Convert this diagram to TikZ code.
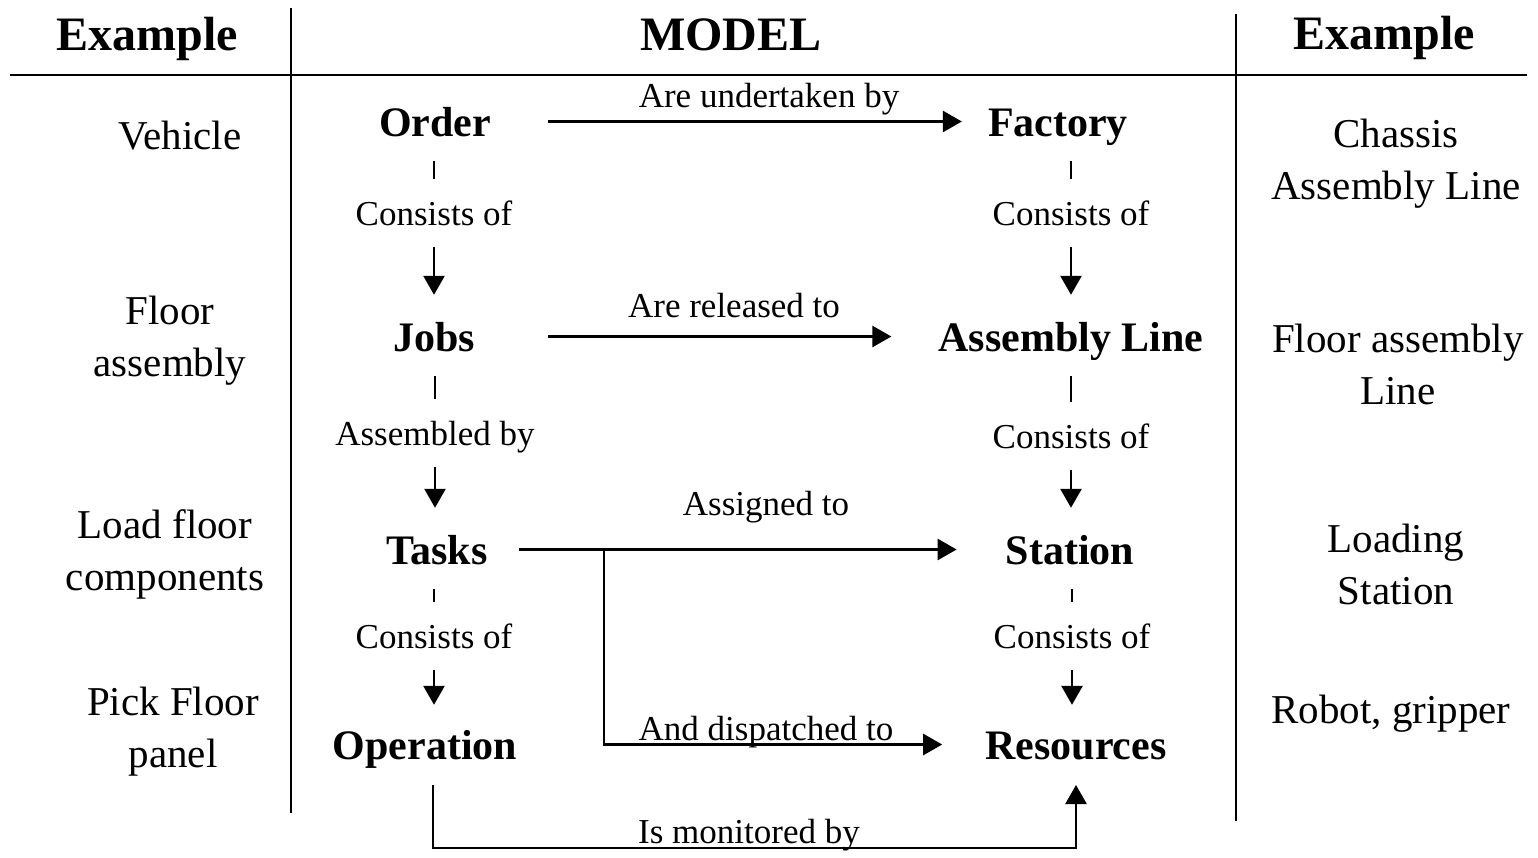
\documentclass[tikz,border=0pt]{standalone}
\usepackage{fontspec}
\setmainfont{Liberation Serif}
\usetikzlibrary{arrows.meta}
\begin{document}
\begin{tikzpicture}[x=1pt,y=-1pt,
  concept/.style={font=\fontsize{42}{50}\selectfont\bfseries, inner sep=0pt, text height=29pt, text depth=0pt, anchor=base},
  rel/.style={font=\fontsize{35}{42}\selectfont, inner sep=0pt, anchor=base},
  vrel/.style={rel, inner xsep=0pt, inner ysep=22pt, text height=24pt, text depth=0pt},
  example/.style={font=\fontsize{41}{52}\selectfont, align=center, inner sep=0pt},
  head/.style={font=\fontsize{48}{58}\selectfont\bfseries, inner sep=0pt, anchor=base},
  rule/.style={line width=2.6pt},
  link/.style={line width=2.6pt},
  arr/.style={line width=2.6pt, -{Triangle[length=19pt,width=21pt]}}
]
\useasboundingbox (0,0) rectangle (1538,857);

% table frame
\node[head] (hl) at (147,50) {Example};
\node[head] (hm) at (731,50) {MODEL};
\node[head] (hr) at (1384,49) {Example};
\draw[rule] (10,75) -- (1527,75);
\draw[rule] (291,8) -- (291,813);
\draw[rule] (1236,14) -- (1236,821);

% left examples
\node[example] (exl1) at (180,136) {Vehicle};
\node[example] (exl2) at (170,341) {Floor\\assembly};
\node[example] (exl3) at (165,554) {Load floor\\components};
\node[example] (exl4) at (173,732) {Pick Floor\\panel};

% right examples
\node[example] (exr1) at (1396,164) {Chassis\\Assembly Line};
\node[example] (exr2) at (1398,364) {Floor assembly\\Line};
\node[example] (exr3) at (1396,564) {Loading\\Station};
\node[example] (exr4) at (1391,714) {Robot, gripper};

% model concepts
\node[concept] (order)     at (435,136)  {Order};
\node[concept] (factory)   at (1058,136) {Factory};
\node[concept] (jobs)      at (434,351)  {Jobs};
\node[concept] (line)      at (1071,351) {Assembly Line};
\node[concept] (tasks)     at (437,564)  {Tasks};
\node[concept] (station)   at (1070,564) {Station};
\node[concept] (operation) at (425,759)  {Operation};
\node[concept] (resources) at (1076,759) {Resources};

% vertical relation labels
\node[vrel] (l1) at (434,225)  {Consists of};
\node[vrel] (l2) at (435,445)  {Assembled by};
\node[vrel] (l3) at (434,648)  {Consists of};
\node[vrel] (r1) at (1071,225) {Consists of};
\node[vrel] (r2) at (1071,448) {Consists of};
\node[vrel] (r3) at (1072,648) {Consists of};

% vertical connectors
\draw[link, shorten <=25pt] (l1 |- order.base) -- (l1.north);
\draw[arr, shorten >=27pt] (l1.south) -- (l1 |- jobs.north);
\draw[link, shorten <=25pt] (l2 |- jobs.base) -- (l2.north);
\draw[arr, shorten >=27pt] (l2.south) -- (l2 |- tasks.north);
\draw[link, shorten <=25pt] (l3 |- tasks.base) -- (l3.north);
\draw[arr, shorten >=25pt] (l3.south) -- (l3 |- operation.north);

\draw[link, shorten <=25pt] (r1 |- factory.base) -- (r1.north);
\draw[arr, shorten >=27pt] (r1.south) -- (r1 |- line.north);
\draw[link, shorten <=25pt] (r2 |- line.base) -- (r2.north);
\draw[arr, shorten >=27pt] (r2.south) -- (r2 |- station.north);
\draw[link, shorten <=25pt] (r3 |- station.base) -- (r3.north);
\draw[arr, shorten >=25pt] (r3.south) -- (r3 |- resources.north);

% horizontal connectors
\draw[arr, shorten <=57pt, shorten >=26pt] (order.east) -- (factory.west);
\node[rel] (t1) at (769,107) {Are undertaken by};

\draw[arr, shorten <=73pt, shorten >=47pt] (jobs.east) -- (line.west);
\node[rel] (t2) at (734,317) {Are released to};

\draw[arr, shorten <=31pt, shorten >=49pt] (tasks.east) -- (station.west);
\node[rel] (t3) at (766,515) {Assigned to};

\coordinate (split) at (604,549.5);
\draw[arr, shorten >=43pt] (split) |- (resources.west);
\node[rel] (t4) at (766,740) {And dispatched to};

\draw[arr] ([xshift=8pt,yshift=-26pt]operation.base) -- ++(0,63)
  -| ([yshift=-26pt]resources.base);
\node[rel] (t5) at (749,843) {Is monitored by};
\end{tikzpicture}
\end{document}
